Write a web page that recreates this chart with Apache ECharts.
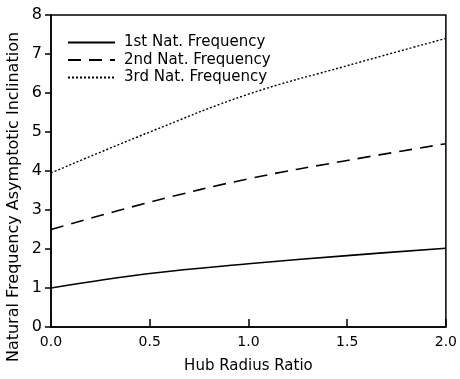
<!DOCTYPE html>
<html>
<head>
<meta charset="utf-8">
<script src="https://cdn.jsdelivr.net/npm/echarts@6/dist/echarts.min.js"></script>
<style>html,body{margin:0;padding:0;background:#fff}#c{width:460px;height:379px}</style>
</head>
<body>
<div id="c"></div>
<script>
var hubRatio = [0.0, 0.5, 1.0, 1.5, 2.0];
var freq1 = [1.00, 1.37, 1.62, 1.83, 2.02];
var freq2 = [2.50, 3.20, 3.80, 4.27, 4.70];
var freq3 = [3.95, 5.00, 5.97, 6.70, 7.40];
var seriesNames = ['1st Nat. Frequency', '2nd Nat. Frequency', '3rd Nat. Frequency'];
var xTicks = ['0.0', '0.5', '1.0', '1.5', '2.0'];
var yTicks = ['0', '1', '2', '3', '4', '5', '6', '7', '8'];

function pairs(ys) { return hubRatio.map(function (x, i) { return [x, ys[i]]; }); }
var FONT = 'DejaVu Sans';
var chart = echarts.init(document.getElementById('c'), null, {renderer: 'canvas'});
var styles = [
  {type: 'solid', width: 1.6},
  {type: [13, 8], width: 1.6},
  {type: [2, 2], width: 1.4}
];
var data = [freq1, freq2, freq3];
chart.setOption({
  animation: false,
  backgroundColor: '#fff',
  grid: {left: 51, right: 9, top: 15, bottom: 44, show: true, borderColor: '#000', borderWidth: 1.5, backgroundColor: 'transparent'},
  legend: {
    orient: 'vertical', left: 62, top: 30, itemGap: 2.5, itemWidth: 47, itemHeight: 14,
    itemStyle: {opacity: 0},
    textStyle: {fontFamily: FONT, fontSize: 15, color: '#000', padding: [0, 0, 0, 4]},
    data: seriesNames
  },
  xAxis: {
    type: 'value', min: 0, max: 2, interval: 0.5,
    name: 'Hub Radius Ratio', nameLocation: 'middle', nameGap: 32,
    nameTextStyle: {fontFamily: FONT, fontSize: 15, color: '#000'},
    axisLine: {lineStyle: {color: '#000', width: 1.5}},
    axisTick: {inside: true, length: 8, lineStyle: {color: '#000', width: 1.5}},
    axisLabel: {fontFamily: FONT, fontSize: 14, color: '#000', margin: 8,
      formatter: function (v) { return xTicks[Math.round(v / 0.5)]; }},
    splitLine: {show: false}
  },
  yAxis: {
    type: 'value', min: 0, max: 8, interval: 1,
    axisLine: {show: true, lineStyle: {color: '#000', width: 1.5}},
    axisTick: {show: true, inside: false, length: 6, lineStyle: {color: '#000', width: 1.5}},
    axisLabel: {fontFamily: FONT, fontSize: 16, color: '#000', margin: 9,
      formatter: function (v) { return yTicks[Math.round(v)]; }},
    splitLine: {show: false}
  },
  graphic: [{
    type: 'text', x: 6, y: 197, rotation: Math.PI / 2,
    style: {text: 'Natural Frequency Asymptotic Inclination', fontFamily: FONT, fontSize: 16, fill: '#000',
      align: 'center', verticalAlign: 'top'}
  }],
  series: data.map(function (d, i) {
    return {
      name: seriesNames[i], type: 'line', data: pairs(d), smooth: 0.4, symbol: 'none',
      lineStyle: {color: '#000', width: styles[i].width, type: styles[i].type},
      itemStyle: {color: '#000'}
    };
  })
});
</script>
</body>
</html>
